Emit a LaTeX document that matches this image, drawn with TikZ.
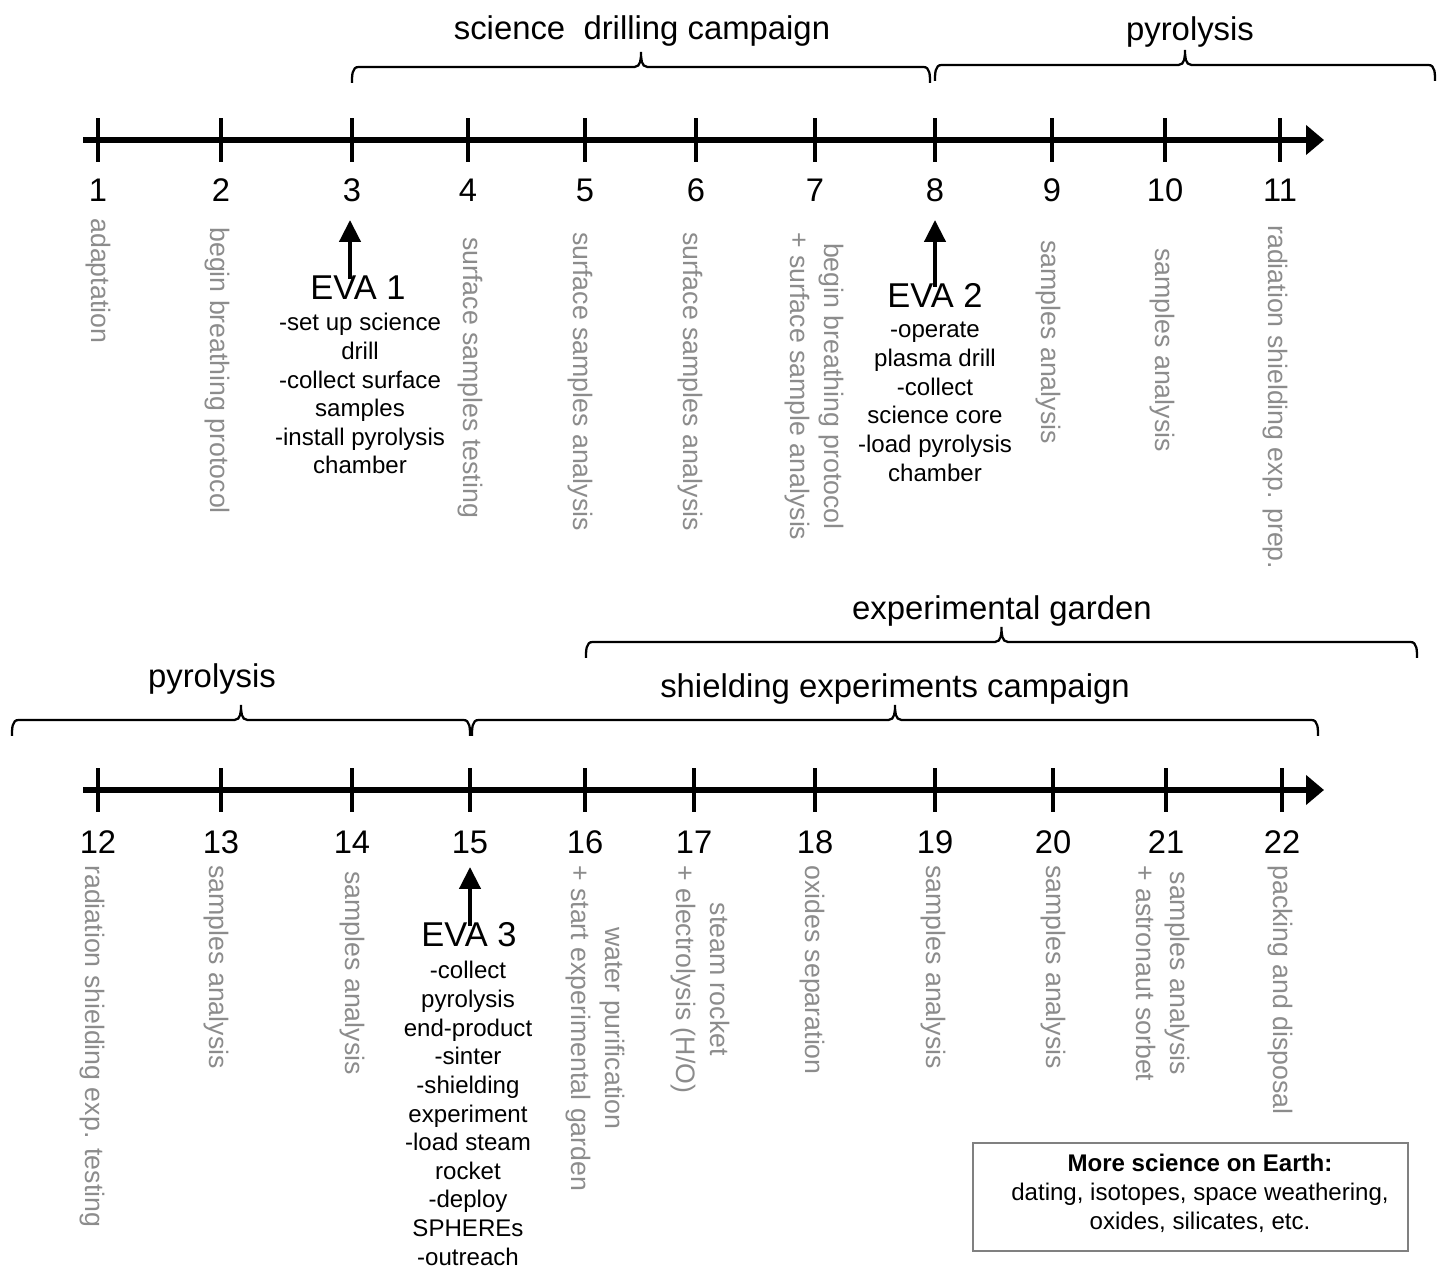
\documentclass[tikz,border=0pt]{standalone}
\usepackage{fontspec}
\setmainfont{Liberation Sans}
\usetikzlibrary{arrows.meta,positioning}
\definecolor{lblgray}{RGB}{140,140,140}
\definecolor{boxgray}{RGB}{128,128,128}

\begin{document}
\begin{tikzpicture}[
  timeline/.style={line width=3.4pt, -{Triangle[length=0.36cm,width=0.58cm]}},
  daytick/.style={line width=2.2pt},
  daynum/.style={anchor=base, inner sep=0, font=\fontsize{18.6}{21}\selectfont},
  phase/.style={anchor=base, inner sep=0, font=\fontsize{18.7}{22}\selectfont},
  brc/.style={line width=1.3pt},
  lbl/.style={rotate=-90, anchor=west, inner sep=0, align=center, text=lblgray, font=\fontsize{15.2}{19.3}\selectfont},
  evatitle/.style={anchor=base, inner sep=0, font=\fontsize{19.6}{22}\selectfont},
  evalist/.style={anchor=north, inner sep=0, align=center, font=\fontsize{13.7}{16.3}\selectfont},
  evaarrow/.style={line width=2.5pt, -{Triangle[length=0.44cm,width=0.42cm]}, shorten <=-0.06cm},
  earthtxt/.style={anchor=north, inner sep=0, align=center, font=\fontsize{13.7}{16.5}\selectfont},
]
\useasboundingbox (0,0) rectangle (28.740,25.380);

% days 1-11
\draw[timeline] (1.660,22.580) -- (26.480,22.580);
\foreach \x [count=\i] in {1.960,4.420,7.040,9.360,11.700,13.920,16.300,18.700,21.040,23.300,25.600} {
  \draw[daytick] (\x,22.140) -- (\x,23.020);
  \node[daynum] (d\i) at (\x,21.340) {\i};
}

% days 12-22
\draw[timeline] (1.660,9.580) -- (26.480,9.580);
\foreach \x [count=\i from 12] in {1.960,4.420,7.040,9.400,11.700,13.880,16.300,18.700,21.060,23.320,25.640} {
  \draw[daytick] (\x,9.140) -- (\x,10.020);
  \node[daynum] (d\i) at (\x,8.300) {\i};
}

% phases
\node[phase] (sci) at (12.840,24.580) {science\ \ drilling campaign};
\node[phase] (pyr1) at (23.800,24.560) {pyrolysis};
\node[phase] (pyr2) at (4.240,11.620) {pyrolysis};
\node[phase] (shield) at (17.900,11.420) {shielding experiments campaign};
\node[phase] (garden) at (20.040,12.980) {experimental garden};
\draw[brc] (7.040,23.720) to[out=90,in=180] (7.170,24.040) -- (12.690,24.040) to[out=0,in=-90] (12.820,24.340) to[out=-90,in=180] (12.950,24.040) -- (18.470,24.040) to[out=0,in=90] (18.600,23.720);
\draw[brc] (18.700,23.760) to[out=90,in=180] (18.830,24.080) -- (23.570,24.080) to[out=0,in=-90] (23.700,24.380) to[out=-90,in=180] (23.830,24.080) -- (28.570,24.080) to[out=0,in=90] (28.700,23.760);
\draw[brc] (0.240,10.660) to[out=90,in=180] (0.370,10.980) -- (4.690,10.980) to[out=0,in=-90] (4.820,11.280) to[out=-90,in=180] (4.950,10.980) -- (9.270,10.980) to[out=0,in=90] (9.400,10.660);
\draw[brc] (9.440,10.660) to[out=90,in=180] (9.570,10.980) -- (17.770,10.980) to[out=0,in=-90] (17.900,11.280) to[out=-90,in=180] (18.030,10.980) -- (26.230,10.980) to[out=0,in=90] (26.360,10.660);
\draw[brc] (11.720,12.220) to[out=90,in=180] (11.850,12.540) -- (19.900,12.540) to[out=0,in=-90] (20.030,12.840) to[out=-90,in=180] (20.160,12.540) -- (28.210,12.540) to[out=0,in=90] (28.340,12.220);

% daily tasks
\node[lbl] (l1) at (1.960,21.020) {adaptation};
\node[lbl] (l2) at (4.340,20.840) {begin breathing protocol};
\node[lbl] (l4) at (9.400,20.640) {surface samples testing};
\node[lbl] (l5) at (11.600,20.740) {surface samples analysis};
\node[lbl] (l6) at (13.800,20.740) {surface samples analysis};
\node[lbl] (l7) at (16.280,20.740) {begin breathing protocol\\+ surface sample analysis};
\node[lbl] (l9) at (20.960,20.580) {samples analysis};
\node[lbl] (l10) at (23.240,20.420) {samples analysis};
\node[lbl] (l11) at (25.500,20.880) {radiation shielding exp. prep.};
\node[lbl] (l12) at (1.840,8.080) {radiation shielding exp. testing};
\node[lbl] (l13) at (4.320,8.080) {samples analysis};
\node[lbl] (l14) at (7.040,7.960) {samples analysis};
\node[lbl] (l16) at (11.900,8.080) {water purification\\+ start experimental garden};
\node[lbl] (l17) at (14.000,8.080) {steam rocket\\+ electrolysis (H/O)};
\node[lbl] (l18) at (16.240,8.080) {oxides separation};
\node[lbl] (l19) at (18.660,8.080) {samples analysis};
\node[lbl] (l20) at (21.060,8.080) {samples analysis};
\node[lbl] (l21) at (23.260,8.080) {samples analysis\\+ astronaut sorbet};
\node[lbl] (l22) at (25.600,8.080) {packing and disposal};

% EVAs
\coordinate (tip1) at (7.000,20.980);
\node[evatitle] (eva1) at (7.160,19.380) {EVA 1};
\node[evalist] (eva1list) at (7.200,19.120) {-set up science\\drill\\-collect surface\\samples\\-install pyrolysis\\chamber};
\draw[evaarrow] (eva1.north -| tip1) -- (tip1);

\coordinate (tip2) at (18.700,20.980);
\node[evatitle] (eva2) at (18.700,19.220) {EVA 2};
\node[evalist] (eva2list) at (18.700,18.940) {-operate\\plasma drill\\-collect\\science core\\-load pyrolysis\\chamber};
\draw[evaarrow] (eva2.north -| tip2) -- (tip2);

\coordinate (tip3) at (9.400,8.040);
\node[evatitle] (eva3) at (9.380,6.440) {EVA 3};
\node[evalist] (eva3list) at (9.360,6.160) {-collect\\pyrolysis\\end-product\\-sinter\\-shielding\\experiment\\-load steam\\rocket\\-deploy\\SPHEREs\\-outreach};
\draw[evaarrow] (eva3.north -| tip3) -- (tip3);

% earth box
\draw[boxgray, line width=0.8pt] (19.460,0.360) rectangle (28.160,2.520);
\node[earthtxt] (earth) at (24.000,2.300) {\textbf{More science on Earth:}\\dating, isotopes, space weathering,\\oxides, silicates, etc.};
\end{tikzpicture}
\end{document}
